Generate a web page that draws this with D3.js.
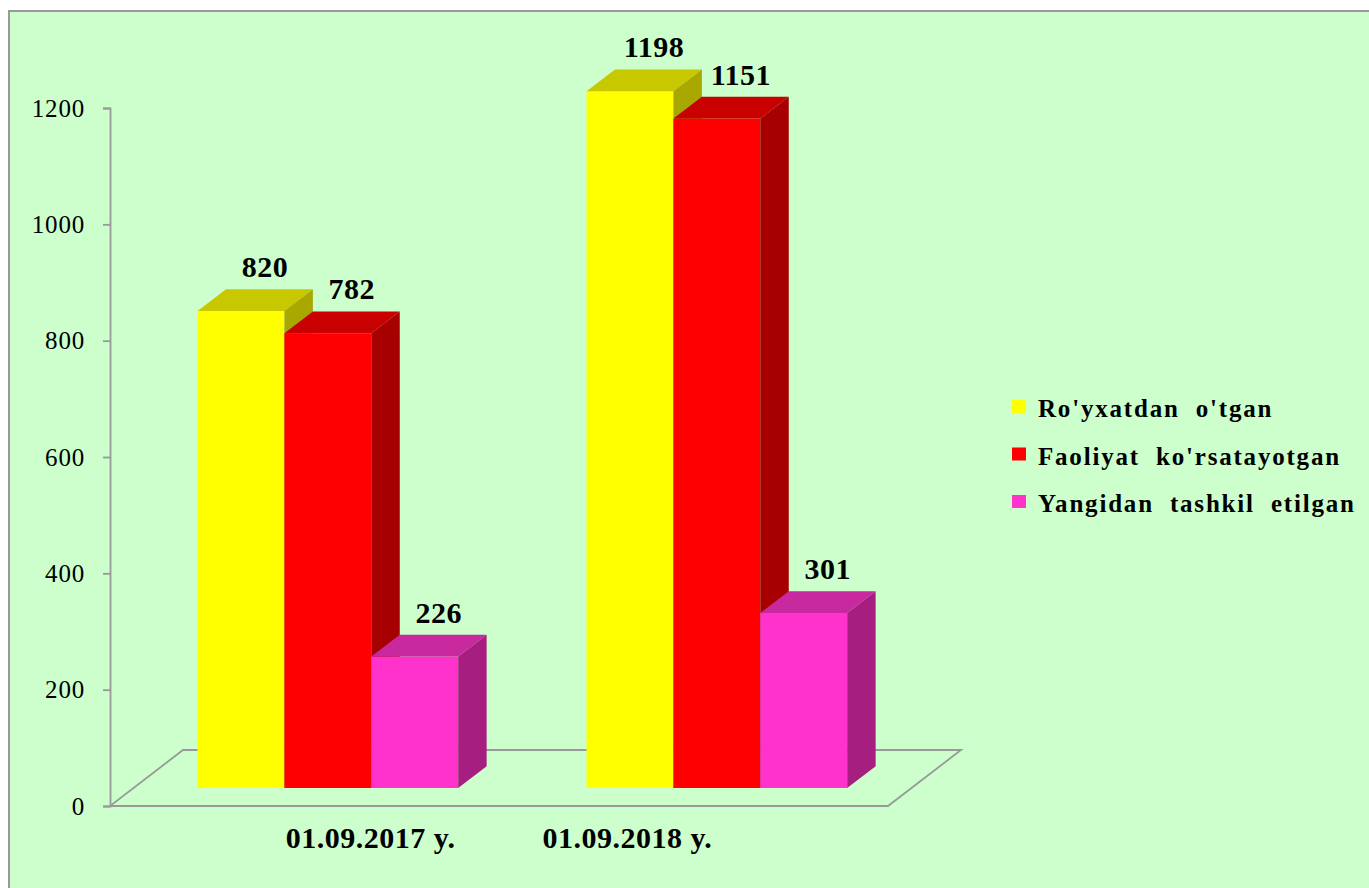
<!DOCTYPE html>
<html>
<head>
<meta charset="utf-8">
<script src="https://cdn.jsdelivr.net/npm/d3@7"></script>
<style>
  body { margin: 0; background: #ffffff; }
  svg text { font-family: "Liberation Serif", "Times New Roman", serif; }
</style>
</head>
<body>
<div id="viz"></div>
<script>
// values
var categories = ["01.09.2017 y.", "01.09.2018 y."];
var seriesNames = ["Ro'yxatdan  o'tgan", "Faoliyat  ko'rsatayotgan", "Yangidan  tashkil  etilgan"];
var registered = [820, 1198];
var active = [782, 1151];
var newlyCreated = [226, 301];
var yTicks = [0, 200, 400, 600, 800, 1000, 1200];

// front, top, side shades per series
var frontColors = ["#ffff00", "#ff0000", "#ff33cc"];
var topColors = ["#c8c800", "#c80000", "#c8299f"];
var sideColors = ["#a8a800", "#a60000", "#a61f80"];

var seriesValues = [registered, active, newlyCreated];

var width = 1369;
var height = 888;

// oblique projection, one unit of depth
var DX = 73, DY = -56;
var dFront = 0.32, dBack = 0.71;

function proj(x, y, d) { return [x + DX * d, y + DY * d]; }

var svg = d3.select("#viz")
    .append("svg")
    .attr("width", width)
    .attr("height", height);

// panel
svg.append("rect")
    .attr("x", 9).attr("y", 11)
    .attr("width", width + 10).attr("height", height + 10)
    .attr("fill", "#ccffcc")
    .attr("stroke", "#999")
    .attr("stroke-width", 2);

var yscale = d3.scaleLinear().domain([0, 1200]).range([806, 108]);

var xscale = d3.scaleBand()
    .domain(categories)
    .range([110, 888])
    .paddingInner(0.33)
    .paddingOuter(0.165);

var xsub = d3.scaleBand()
    .domain(d3.range(seriesNames.length))
    .range([0, xscale.bandwidth()]);

// floor
var fl = [[110, 806, 0], [888, 806, 0], [888, 806, 1], [110, 806, 1]].map(function(p) { return proj(p[0], p[1], p[2]); });
svg.append("path")
    .attr("d", "M" + fl.join("L") + "Z")
    .attr("fill", "none")
    .attr("stroke", "#999")
    .attr("stroke-width", 1.8);

// y axis
var yAxis = svg.append("g")
    .attr("transform", "translate(110,0)")
    .call(d3.axisLeft(yscale).tickValues(yTicks).tickSize(7).tickPadding(18).tickFormat(d3.format("d")));
yAxis.attr("font-family", null);
yAxis.select(".domain").attr("stroke", "#999").attr("stroke-width", 1.8);
yAxis.selectAll(".tick line").attr("stroke", "#999").attr("stroke-width", 1.8);
yAxis.selectAll(".tick text")
    .attr("fill", "#000")
    .style("font-size", "25px")
    .style("letter-spacing", "0.8px");

// bars
var bars = [];
categories.forEach(function(c, ci) {
    seriesValues.forEach(function(vals, si) {
        bars.push({ cat: c, ci: ci, si: si, value: vals[ci] });
    });
});

function poly(pts) {
    return "M" + pts.map(function(p) { return proj(p[0], p[1], p[2]); }).join("L") + "Z";
}

var g = svg.selectAll(".bar")
    .data(bars)
    .enter()
    .append("g")
    .attr("class", "bar");

g.each(function(d) {
    var x0 = xscale(d.cat) + xsub(d.si);
    var x1 = x0 + xsub.bandwidth();
    var y0 = yscale(0);
    var y1 = yscale(d.value);
    var sel = d3.select(this);
    sel.append("path")
        .attr("d", poly([[x0, y1, dFront], [x1, y1, dFront], [x1, y0, dFront], [x0, y0, dFront]]))
        .attr("fill", frontColors[d.si]);
    sel.append("path")
        .attr("d", poly([[x0, y1, dFront], [x1, y1, dFront], [x1, y1, dBack], [x0, y1, dBack]]))
        .attr("fill", topColors[d.si]);
    sel.append("path")
        .attr("d", poly([[x1, y1, dFront], [x1, y0, dFront], [x1, y0, dBack], [x1, y1, dBack]]))
        .attr("fill", sideColors[d.si]);
});

// value labels
svg.selectAll(".bar-label")
    .data(bars)
    .enter()
    .append("text")
    .attr("class", "bar-label")
    .attr("x", function(d) { return xscale(d.cat) + xsub(d.si) + xsub.bandwidth() / 2 + DX * dFront + 24; })
    .attr("y", function(d) { return yscale(d.value) + DY * dBack - 12; })
    .attr("text-anchor", "middle")
    .style("font-size", "30px")
    .style("font-weight", "bold")
    .style("letter-spacing", "0.5px")
    .text(function(d) { return d.value; });

// category labels (pulled toward the middle like the original)
var mid = (xscale.range()[0] + xscale.range()[1]) / 2;
svg.selectAll(".cat-label")
    .data(categories)
    .enter()
    .append("text")
    .attr("class", "cat-label")
    .attr("x", function(d) { var c = xscale(d) + xscale.bandwidth() / 2; return mid + (c - mid) * 0.66; })
    .attr("y", 848)
    .attr("text-anchor", "middle")
    .style("font-size", "30px")
    .style("font-weight", "bold")
    .style("letter-spacing", "0.5px")
    .text(function(d) { return d; });

// legend
var legend = svg.selectAll(".legend")
    .data(seriesNames)
    .enter()
    .append("g")
    .attr("transform", function(d, i) { return "translate(1012," + (400 + i * 47.5) + ")"; });

legend.append("rect")
    .attr("width", 14).attr("height", 13)
    .attr("fill", function(d, i) { return frontColors[i]; });

legend.append("text")
    .attr("x", 26)
    .attr("y", 17)
    .style("font-size", "25px")
    .style("font-weight", "bold")
    .style("letter-spacing", "1.8px")
    .style("white-space", "pre")
    .text(function(d) { return d; });
</script>
</body>
</html>
